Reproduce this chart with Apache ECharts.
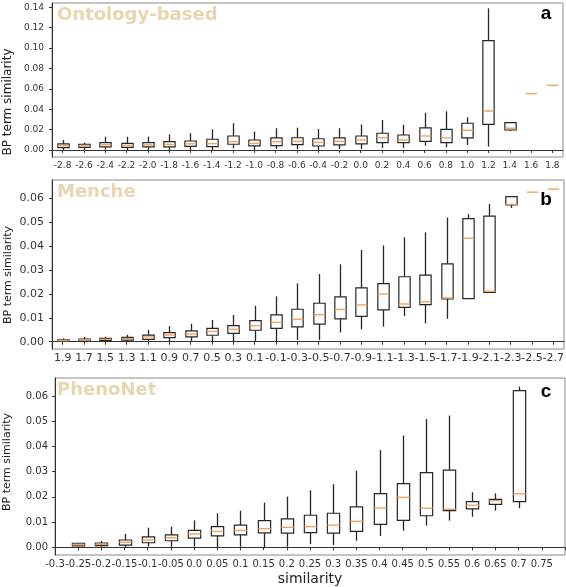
<!DOCTYPE html>
<html>
<head>
<meta charset="utf-8">
<script src="https://cdn.jsdelivr.net/npm/echarts@6/dist/echarts.min.js"></script>
<style>
html,body{margin:0;padding:0;background:#fff;}
#chart{width:566px;height:587px;}
</style>
</head>
<body>
<div id="chart"></div>
<script>
// ---------- Panel a: Ontology-based ----------
const catsA = ['-2.8','-2.6','-2.4','-2.2','-2.0','-1.8','-1.6','-1.4','-1.2','-1.0','-0.8','-0.6','-0.4','-0.2','0.0','0.2','0.4','0.6','0.8','1.0','1.2','1.4','1.6','1.8'];
const lowA  = [0, 0, 0.0003, 0, 0, 0, 0, 0, 0.0016, 0, 0.001, 0.0007, 0, 0.001, 0.001, 0.002, 0.002, 0.0042, 0.0026, 0.0049, 0.0033, 0.0186, 0.0553, 0.0635];
const q1A   = [0.0023, 0.0026, 0.003, 0.0026, 0.003, 0.003, 0.0036, 0.0033, 0.0056, 0.004, 0.0043, 0.0052, 0.0039, 0.0049, 0.0059, 0.0072, 0.0072, 0.0085, 0.0072, 0.0118, 0.0252, 0.0196, 0.0553, 0.0635];
const medA  = [0.0042, 0.004, 0.0052, 0.0045, 0.005, 0.0055, 0.006, 0.0062, 0.0082, 0.0065, 0.0082, 0.0085, 0.0075, 0.0085, 0.0098, 0.012, 0.0098, 0.0137, 0.0118, 0.0193, 0.0383, 0.0213, 0.0553, 0.0635];
const q3A   = [0.0059, 0.0056, 0.0072, 0.0065, 0.0072, 0.0082, 0.0088, 0.0105, 0.0137, 0.0098, 0.0118, 0.012, 0.011, 0.0118, 0.0137, 0.0164, 0.0147, 0.0216, 0.0203, 0.0262, 0.1073, 0.0268, 0.0553, 0.0635];
const highA = [0.0098, 0.0072, 0.013, 0.013, 0.013, 0.0154, 0.0164, 0.0203, 0.0262, 0.018, 0.0213, 0.0219, 0.0206, 0.0213, 0.0249, 0.0294, 0.0249, 0.0366, 0.038, 0.032, 0.139, 0.0268, 0.0553, 0.0635];
const ticksA = [0, 0.02, 0.04, 0.06, 0.08, 0.10, 0.12, 0.14];

// ---------- Panel b: Menche ----------
const catsB = ['1.9','1.7','1.5','1.3','1.1','0.9','0.7','0.5','0.3','0.1','-0.1','-0.3','-0.5','-0.7','-0.9','-1.1','-1.3','-1.5','-1.7','-1.9','-2.1','-2.3','-2.5','-2.7'];
const lowB  = [0, 0.0001, 0.0002, 0.0003, 0.0003, 0, 0, 0, 0, 0, 0, 0.0007, 0.0007, 0.0039, 0.0052, 0.0063, 0.0108, 0.0077, 0.0096, 0.0178, 0.0206, 0.056, 0.0626, 0.0639];
const q1B   = [0.0002, 0.0003, 0.0005, 0.0007, 0.001, 0.0017, 0.002, 0.0027, 0.0035, 0.0048, 0.0056, 0.0062, 0.0074, 0.0096, 0.0106, 0.0133, 0.0144, 0.0155, 0.0179, 0.018, 0.0206, 0.0573, 0.0626, 0.0639];
const medB  = [0.0005, 0.0008, 0.001, 0.0013, 0.002, 0.0028, 0.0032, 0.0043, 0.0052, 0.0067, 0.0081, 0.0094, 0.0113, 0.0135, 0.0154, 0.02, 0.0158, 0.0167, 0.0183, 0.0433, 0.0211, 0.0575, 0.0626, 0.0639];
const q3B   = [0.0008, 0.0011, 0.0014, 0.0018, 0.0028, 0.0038, 0.0045, 0.0056, 0.0067, 0.0088, 0.0112, 0.0136, 0.0161, 0.0188, 0.0225, 0.0243, 0.0272, 0.0279, 0.0326, 0.0515, 0.0526, 0.0607, 0.0626, 0.0639];
const highB = [0.0014, 0.002, 0.0021, 0.0029, 0.0049, 0.0065, 0.0075, 0.0091, 0.0112, 0.015, 0.019, 0.0244, 0.0283, 0.0324, 0.0384, 0.0403, 0.0437, 0.0458, 0.052, 0.0534, 0.0577, 0.0607, 0.0626, 0.0639];
const ticksB = [0, 0.01, 0.02, 0.03, 0.04, 0.05, 0.06];

// ---------- Panel c: PhenoNet ----------
const catsC = ['-0.3','-0.25','-0.2','-0.15','-0.1','-0.05','0.0','0.05','0.1','0.15','0.2','0.25','0.3','0.35','0.4','0.45','0.5','0.55','0.6','0.65','0.7','0.75',''];
const lowC  = [null, 0.0004, 0.0003, 0, 0.0003, 0, 0.0003, 0, 0.0002, 0, 0.0002, 0.0013, 0.0009, 0.0026, 0.0045, 0.0066, 0.0086, 0.0106, 0.0121, 0.0145, 0.0155, null, null];
const q1C   = [null, 0.0006, 0.0007, 0.0009, 0.0018, 0.0026, 0.0036, 0.0045, 0.0049, 0.0057, 0.0056, 0.0058, 0.0056, 0.0063, 0.0091, 0.0107, 0.0125, 0.0145, 0.0152, 0.017, 0.0181, null, null];
const medC  = [null, 0.0011, 0.0012, 0.002, 0.0029, 0.0038, 0.0053, 0.0063, 0.0067, 0.0074, 0.0079, 0.0082, 0.0088, 0.0103, 0.0156, 0.0198, 0.0155, 0.0151, 0.0167, 0.0185, 0.0212, null, null];
const q3C   = [null, 0.0016, 0.0017, 0.0029, 0.0041, 0.0049, 0.0067, 0.0082, 0.0088, 0.0106, 0.0113, 0.0127, 0.0135, 0.016, 0.0213, 0.0252, 0.0296, 0.0306, 0.0181, 0.019, 0.0621, null, null];
const highC = [null, 0.0018, 0.0025, 0.0053, 0.0078, 0.0082, 0.0107, 0.0135, 0.0145, 0.0177, 0.0201, 0.0226, 0.025, 0.0304, 0.0385, 0.0443, 0.0508, 0.0522, 0.0218, 0.0214, 0.0637, null, null];
const ticksC = [0, 0.01, 0.02, 0.03, 0.04, 0.05, 0.06];

function buildRows(low, q1, med, q3, high) {
  const rows = [];
  for (let i = 0; i < med.length; i++) {
    if (med[i] == null) continue;
    rows.push([i, low[i], q1[i], med[i], q3[i], high[i]]);
  }
  return rows;
}

const EDGE = '#262626';
const MEDIAN = '#f0a55e';

function renderBox(params, api) {
  const x = api.value(0);
  const pLow = api.coord([x, api.value(1)]);
  const pQ1 = api.coord([x, api.value(2)]);
  const pMed = api.coord([x, api.value(3)]);
  const pQ3 = api.coord([x, api.value(4)]);
  const pHigh = api.coord([x, api.value(5)]);
  const w = api.size([1, 0])[0] * 0.53;
  const cx = Math.round(pMed[0]) + 0.5;
  const children = [];
  if (pLow[1] - pQ1[1] > 0.5) {
    children.push({type: 'line', shape: {x1: cx, y1: pLow[1], x2: cx, y2: pQ1[1]}, style: {stroke: EDGE, lineWidth: 1.3}});
  }
  if (pQ3[1] - pHigh[1] > 0.5) {
    children.push({type: 'line', shape: {x1: cx, y1: pQ3[1], x2: cx, y2: pHigh[1]}, style: {stroke: EDGE, lineWidth: 1.3}});
  }
  if (pQ1[1] - pQ3[1] > 0.5) {
    children.push({type: 'rect', shape: {x: cx - w / 2, y: pQ3[1], width: w, height: pQ1[1] - pQ3[1]}, style: {fill: '#fff', stroke: EDGE, lineWidth: 1.2}});
  }
  children.push({type: 'line', shape: {x1: cx - w / 2, y1: pMed[1], x2: cx + w / 2, y2: pMed[1]}, style: {stroke: MEDIAN, lineWidth: 1.4}});
  return {type: 'group', children: children};
}

const FONT = 'DejaVu Sans';

function xAxisCfg(idx, cats, gap, fs) {
  return {
    type: 'category', gridIndex: idx, data: cats, boundaryGap: gap,
    axisLine: {show: true, lineStyle: {color: '#333', width: 1}},
    axisTick: {show: true, length: 3, alignWithLabel: true, interval: 0, lineStyle: {color: '#333'}},
    axisLabel: {interval: 0, fontSize: fs, fontFamily: FONT, color: '#333', margin: 4, hideOverlap: false},
    splitLine: {show: false}
  };
}
function yAxisCfg(idx, min, max, ticks, margin, fs) {
  return {
    type: 'value', gridIndex: idx, min: min, max: max,
    axisLine: {show: true, lineStyle: {color: '#333', width: 1}},
    axisTick: {show: true, length: 3, customValues: ticks, lineStyle: {color: '#333'}},
    axisLabel: {customValues: ticks, fontSize: fs, fontFamily: FONT, color: '#333', margin: margin,
      formatter: function (v) { return v.toFixed(2); }},
    splitLine: {show: false}
  };
}
function gridCfg(left, top, width, height) {
  return {left: left, top: top, width: width, height: height, show: true,
    borderColor: '#8a8a8a', borderWidth: 1, backgroundColor: 'transparent',
    containLabel: false, outerBoundsMode: 'none'};
}
function seriesCfg(idx, rows) {
  return {type: 'custom', xAxisIndex: idx, yAxisIndex: idx, renderItem: renderBox,
    data: rows, encode: {x: 0, y: [1, 2, 3, 4, 5]}, silent: true, animation: false, clip: false};
}

function text(x, y, str, size, weight, color, family, rot, align) {
  return {type: 'text', x: x, y: y, rotation: rot || 0, silent: true,
    style: {text: str, fontSize: size, fontWeight: weight, fill: color, fontFamily: family,
      align: align || 'center', verticalAlign: 'middle'}};
}

const chart = echarts.init(document.getElementById('chart'), null, {renderer: 'canvas'});
chart.setOption({
  backgroundColor: '#fff',
  animation: false,
  grid: [
    gridCfg(52, 3, 511, 154),
    gridCfg(52, 180, 512, 169),
    gridCfg(55, 378, 510, 177)
  ],
  xAxis: [
    xAxisCfg(0, catsA, true, 9),
    xAxisCfg(1, catsB, true, 11),
    xAxisCfg(2, catsC, false, 10)
  ],
  yAxis: [
    yAxisCfg(0, -0.0069, 0.1442, ticksA, 8, 9),
    yAxisCfg(1, -0.00305, 0.0677, ticksB, 8, 11),
    yAxisCfg(2, -0.00305, 0.0671, ticksC, 7, 10)
  ],
  series: [
    seriesCfg(0, buildRows(lowA, q1A, medA, q3A, highA)),
    seriesCfg(1, buildRows(lowB, q1B, medB, q3B, highB)),
    seriesCfg(2, buildRows(lowC, q1C, medC, q3C, highC))
  ],
  graphic: [
    text(57, 15.5, 'Ontology-based', 18, 'bold', '#e8d6b0', FONT, 0, 'left'),
    text(57, 192.5, 'Menche', 18, 'bold', '#e8d6b0', FONT, 0, 'left'),
    text(57, 390, 'PhenoNet', 18, 'bold', '#e8d6b0', FONT, 0, 'left'),
    text(546, 14, 'a', 19, 'bold', '#000', 'Liberation Sans', 0, 'center'),
    text(546, 200, 'b', 19, 'bold', '#000', 'Liberation Sans', 0, 'center'),
    text(546, 392, 'c', 19, 'bold', '#000', 'Liberation Sans', 0, 'center'),
    text(8, 102, 'BP term similarity', 12, 'normal', '#222', FONT, Math.PI / 2, 'center'),
    text(8, 275, 'BP term similarity', 11, 'normal', '#222', FONT, Math.PI / 2, 'center'),
    text(7, 462, 'BP term similarity', 11, 'normal', '#222', FONT, Math.PI / 2, 'center'),
    text(310, 579, 'similarity', 14, 'normal', '#222', FONT, 0, 'center')
  ]
});
</script>
</body>
</html>
